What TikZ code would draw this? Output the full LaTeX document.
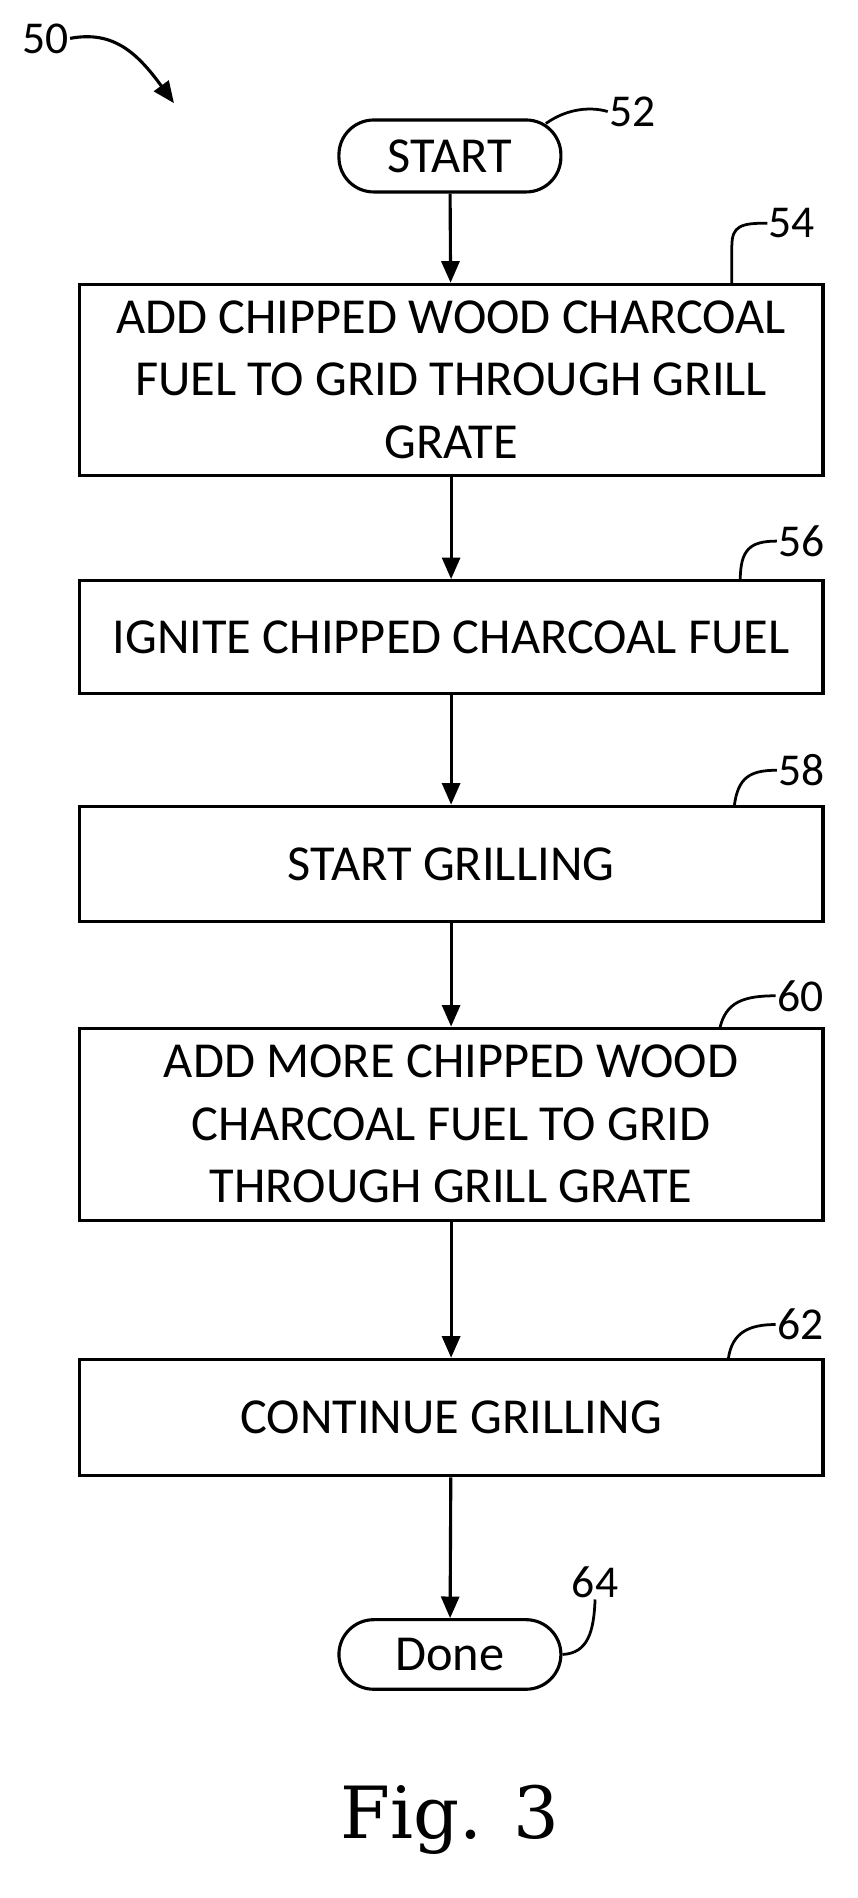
\documentclass[tikz,border=0pt]{standalone}
\usepackage{fontspec}
\setmainfont{Carlito}
\newfontfamily\figfont{DejaVu Serif}
\usetikzlibrary{arrows.meta}
\begin{document}
\begin{tikzpicture}[x=1pt,y=-1pt,
  box/.style={draw,line width=2.6pt,minimum width=620pt,align=center,font=\fontsize{42}{52}\selectfont,inner sep=0pt},
  pill/.style={draw,line width=2.6pt,rounded corners=29pt,minimum width=185pt,minimum height=60pt,font=\fontsize{42}{48}\selectfont},
  lbl/.style={font=\fontsize{38}{44}\selectfont,inner sep=1pt},
  arr/.style={line width=2.6pt,-{Triangle[length=18pt,width=15pt]}},
  lead/.style={line width=2.3pt}]
\useasboundingbox (0,0) rectangle (715,1582);
\node[pill] (s) at (375,130) {START};
\node[box,minimum height=159pt] (b54) at (376,316.5) {ADD CHIPPED WOOD CHARCOAL\\FUEL TO GRID THROUGH GRILL\\GRATE};
\node[box,minimum height=94pt] (b56) at (376,531) {IGNITE CHIPPED CHARCOAL FUEL};
\node[box,minimum height=96pt] (b58) at (376,720) {START GRILLING};
\node[box,minimum height=160pt] (b60) at (376,937) {ADD MORE CHIPPED WOOD\\CHARCOAL FUEL TO GRID\\THROUGH GRILL GRATE};
\node[box,minimum height=97pt] (b62) at (376,1181.5) {CONTINUE GRILLING};
\node[pill,minimum height=58pt] (d) at (375,1379) {Done};
\node[font=\figfont\fontsize{60}{68}\selectfont] (fig) at (375,1517) {Fig. 3};
\draw[arr] (s) -- (b54);
\draw[arr] (b54) -- (b56);
\draw[arr] (b56) -- (b58);
\draw[arr] (b58) -- (b60);
\draw[arr] (b60) -- (b62);
\draw[arr] (b62) -- (d);
\node[lbl] (l50) at (38,32) {50};
\node[lbl] (l52) at (527,93) {52};
\node[lbl] (l54) at (660,186) {54};
\node[lbl] (l56) at (668,451) {56};
\node[lbl] (l58) at (668,642) {58};
\node[lbl] (l60) at (667,830) {60};
\node[lbl] (l62) at (667,1104) {62};
\node[lbl] (l64) at (496,1319) {64};
\coordinate (a50) at (145,86);
\draw[arr] (l50.east) .. controls (95,25) and (115,45) .. (a50);
\draw[lead] (455,103) .. controls (470,92) and (490,88) .. (l52.west);
\draw[lead] (610,237) -- (610,205) .. controls (610,188) and (618,186) .. (l54.west);
\draw[lead] (617,484) .. controls (617,458) and (625,451) .. (l56.west);
\draw[lead] (612,672) .. controls (615,648) and (625,642) .. (l58.west);
\draw[lead] (600,857) .. controls (605,835) and (620,830) .. (l60.west);
\draw[lead] (607,1133) .. controls (610,1110) and (625,1104) .. (l62.west);
\draw[lead] (d.east) .. controls (490,1378) and (495,1360) .. (l64.south);
\end{tikzpicture}
\end{document}
